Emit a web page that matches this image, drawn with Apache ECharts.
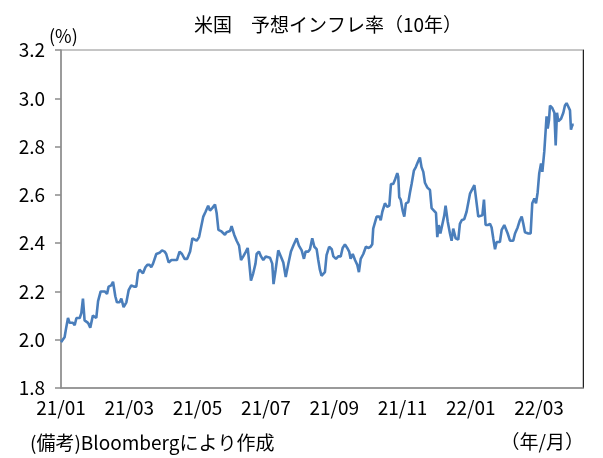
<!DOCTYPE html>
<html>
<head>
<meta charset="utf-8">
<script src="https://cdn.jsdelivr.net/npm/echarts@6/dist/echarts.min.js"></script>
<style>
html,body{margin:0;padding:0;background:#fff;}
#c{width:603px;height:458px;}
</style>
</head>
<body>
<div id="c"></div>
<script>
// x: business-day index from 2021/01 start (42 per two months)
const tickLabels = ['21/01','21/03','21/05','21/07','21/09','21/11','22/01','22/03'];
const days = [
0,2.2,3.2,4.3,5.3,7.3,8.4,9.5,11.5,12.5,13.5,14.5,16.6,18.0,19.6,21.7,22.8,24.4,26.9,28.3,
29.3,30.9,32.0,33.4,34.4,36.0,37.1,38.5,40.2,41.6,43.2,44.9,46.3,47.3,48.3,50.4,51.9,53.1,54.5,55.5,
56.6,57.6,58.6,60.6,62.1,63.7,64.7,66.2,67.9,69.9,71.3,72.9,74.4,76.0,77.6,79.4,80.8,82.0,83.4,84.9,
86.1,87.5,88.9,90.5,91.6,93.0,94.7,95.7,96.8,98.4,99.4,100.8,101.8,103.9,104.9,106.5,108.0,109.5,110.7,112.1,
113.7,114.8,115.6,116.8,118.2,119.6,120.3,121.7,123.0,124.4,125.9,128.5,129.9,130.7,132.0,133.6,135.2,136.7,138.2,139.8,
141.4,142.9,144.9,146.3,148.0,149.4,150.4,152.1,153.1,154.5,155.8,157.2,158.2,159.2,160.2,162.3,163.3,164.9,166.5,167.5,
169.1,170.5,172.0,173.2,174.6,176.0,177.2,178.1,179.4,180.8,182.2,183.2,184.3,185.9,187.5,188.9,190.4,191.4,192.0,193.0,
194.1,195.8,196.6,197.6,199.2,200.6,201.9,202.9,204.3,205.5,206.8,207.4,208.0,208.9,210.1,211.1,212.1,213.6,214.6,215.6,
217.0,218.2,219.7,220.7,221.7,222.8,223.8,225.3,226.9,227.9,229.3,230.6,231.4,232.3,233.3,234.5,235.7,236.5,237.8,239.2,
240.2,241.2,242.7,244.3,245.3,246.4,248.0,249.4,250.5,251.5,252.5,254.2,255.6,256.6,257.6,259.1,260.1,261.1,262.4,263.8,
264.8,265.8,266.9,267.9,268.9,269.9,271.0,272.6,273.6,274.7,276.1,278.1,279.2,280.8,282.2,283.3,284.3,285.3,287.4,288.8,
289.8,291.1,292.1,293.1,294.1,295.2,296.0,297.2,298.6,299.3,300.1,300.7,302.1,303.4,304.2,305.0,305.8,307.5,308.9,309.9,
310.9,312.0,313.0,313.6,314.4,315.3
];
const values = [
1.99,2.01,2.05,2.09,2.07,2.07,2.06,2.09,2.09,2.11,2.17,2.08,2.07,2.05,2.10,2.09,2.16,2.20,2.20,2.19,
2.22,2.225,2.24,2.18,2.155,2.155,2.17,2.135,2.155,2.205,2.225,2.22,2.22,2.275,2.29,2.275,2.30,2.31,2.31,2.30,
2.315,2.32,2.355,2.36,2.37,2.365,2.355,2.32,2.33,2.33,2.33,2.365,2.355,2.335,2.335,2.365,2.42,2.425,2.41,2.425,
2.465,2.51,2.53,2.555,2.535,2.545,2.56,2.525,2.455,2.45,2.455,2.435,2.445,2.45,2.47,2.435,2.41,2.39,2.33,2.345,
2.365,2.38,2.33,2.245,2.275,2.315,2.355,2.365,2.345,2.33,2.345,2.34,2.315,2.23,2.29,2.37,2.345,2.32,2.26,2.315,
2.365,2.39,2.42,2.39,2.37,2.335,2.365,2.365,2.375,2.42,2.385,2.375,2.33,2.29,2.265,2.28,2.35,2.385,2.375,2.345,
2.335,2.345,2.345,2.38,2.395,2.38,2.365,2.335,2.355,2.33,2.31,2.28,2.335,2.355,2.385,2.38,2.385,2.395,2.46,2.465,
2.51,2.51,2.495,2.53,2.565,2.55,2.555,2.645,2.645,2.665,2.69,2.675,2.59,2.58,2.535,2.51,2.565,2.57,2.61,2.645,
2.70,2.715,2.74,2.755,2.715,2.695,2.65,2.63,2.62,2.545,2.535,2.525,2.425,2.475,2.44,2.445,2.515,2.555,2.49,2.44,
2.41,2.46,2.42,2.415,2.48,2.495,2.50,2.53,2.535,2.605,2.61,2.64,2.565,2.51,2.515,2.515,2.58,2.475,2.475,2.48,
2.465,2.42,2.375,2.405,2.40,2.405,2.455,2.475,2.48,2.44,2.41,2.41,2.44,2.465,2.495,2.51,2.48,2.445,2.44,2.44,
2.565,2.585,2.565,2.61,2.69,2.73,2.695,2.78,2.925,2.875,2.91,2.97,2.96,2.94,2.805,2.94,2.905,2.915,2.94,2.97,
2.98,2.965,2.95,2.87,2.89,2.89
];
const seriesData = days.map((d, i) => [d, values[i]]);

const FONT = '"Noto Sans CJK JP", "Noto Sans", sans-serif';
const chart = echarts.init(document.getElementById('c'), null, {renderer: 'canvas'});
chart.setOption({
  animation: false,
  backgroundColor: '#ffffff',
  title: {
    text: '米国\u3000予想インフレ率（10年）',
    left: 194, top: 15, padding: 0,
    textStyle: {fontFamily: FONT, fontSize: 19, fontWeight: 'normal', color: '#000'}
  },
  grid: {
    left: 61, right: 20, top: 50, bottom: 70,
    show: true, borderColor: '#8c8c8c', borderWidth: 1, backgroundColor: 'transparent'
  },
  xAxis: {
    type: 'value', min: 0, max: 321, interval: 42,
    axisLine: {show: true, lineStyle: {color: '#8c8c8c', width: 1.5}},
    axisTick: {show: false},
    splitLine: {show: false},
    axisLabel: {
      fontFamily: FONT, fontSize: 19, color: '#000', margin: 10,
      formatter: function (v) { return (v % 42 === 0 && tickLabels[v / 42]) ? tickLabels[v / 42] : ''; }
    }
  },
  yAxis: [{
    type: 'value', min: 1.8, max: 3.2, interval: 0.2,
    axisLine: {show: true, lineStyle: {color: '#8c8c8c', width: 1.5}},
    axisTick: {show: true, inside: false, length: 6, lineStyle: {color: '#8c8c8c', width: 1.5}},
    splitLine: {show: false},
    axisLabel: {
      fontFamily: FONT, fontSize: 19, color: '#000', margin: 16,
      formatter: function (v) { return v.toFixed(1); }
    }
  }, {
    type: 'value', min: 1.8, max: 3.2, interval: 0.2, position: 'right',
    axisLine: {show: true, lineStyle: {color: '#222', width: 1}},
    axisTick: {show: false}, axisLabel: {show: false}, splitLine: {show: false}
  }],
  graphic: [
    {type: 'text', left: 49, top: 27, style: {text: '(%)', font: '18px ' + FONT, fill: '#000'}},
    {type: 'text', left: 30, top: 433, style: {text: '(備考)Bloombergにより作成', font: '19px ' + FONT, fill: '#000'}},
    {type: 'text', x: 584, y: 442, style: {text: '（年/月）', font: '19px ' + FONT, fill: '#000', align: 'right', verticalAlign: 'middle'}}
  ],
  series: [{
    type: 'line',
    data: seriesData,
    showSymbol: false,
    symbol: 'none',
    smooth: false,
    lineStyle: {color: '#4A7EBB', width: 2.6},
    yAxisIndex: 0
  }]
});
</script>
</body>
</html>
